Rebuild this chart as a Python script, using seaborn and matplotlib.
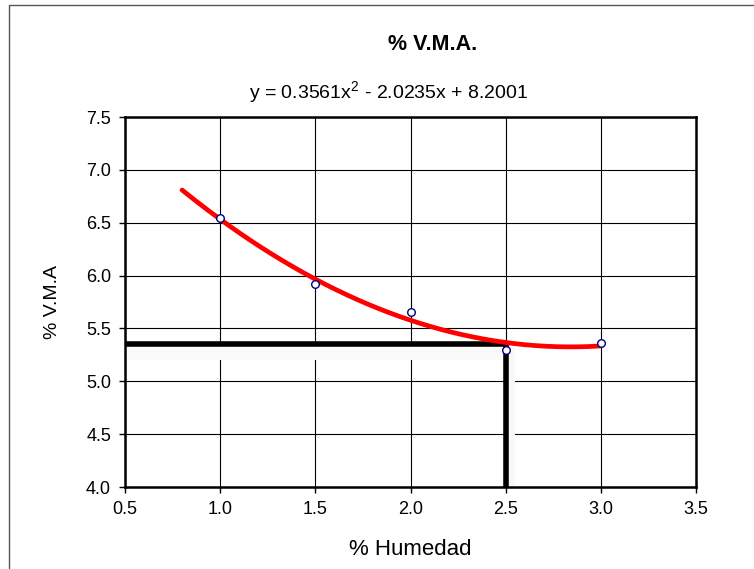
import numpy as np
import pandas as pd
import matplotlib
matplotlib.use("Agg")
import matplotlib.pyplot as plt
from matplotlib.patches import Rectangle
import seaborn as sns

# Data
humedad = [1.0, 1.5, 2.0, 2.5, 3.0]
vma = [6.54, 5.92, 5.66, 5.30, 5.36]
# trendline coefficients as printed on the chart
coef = [0.3561, -2.0235, 8.2001]
trend_range = [0.8, 3.0]
design_x = 2.5
design_y = 5.35
x_ticks = [0.5, 1.0, 1.5, 2.0, 2.5, 3.0, 3.5]
y_ticks = [4.0, 4.5, 5.0, 5.5, 6.0, 6.5, 7.0, 7.5]
title = "% V.M.A."
equation = "y = 0.3561x$^{2}$ - 2.0235x + 8.2001"

sns.set_theme(style="white")
plt.rcParams['font.family'] = ['Liberation Sans', 'DejaVu Sans']
plt.rcParams['mathtext.fontset'] = 'custom'
plt.rcParams['mathtext.rm'] = 'Liberation Sans'

fig = plt.figure(figsize=(7.54, 5.69), dpi=100)
W, H = 754, 569
ax = fig.add_axes([125 / W, 1 - 487 / H, (696 - 125) / W, (487 - 117) / H])

# outer chart border
fig.patches.append(Rectangle((9 / W, -0.1), 1.2, (1 - 5 / H) + 0.1, transform=fig.transFigure,
                             fill=False, edgecolor='#555555', linewidth=1.0))

df = pd.DataFrame({"x": humedad, "y": vma})
xs = np.linspace(trend_range[0], trend_range[1], 200)
trend = pd.DataFrame({"x": xs, "y": np.polyval(coef, xs)})

# faint shadows of the design lines
ax.fill_between([x_ticks[0], design_x + 0.03], design_y - 0.15, design_y - 0.02,
                color='#fafafa', zorder=2, linewidth=0)
ax.fill_between([design_x + 0.01, design_x + 0.05], y_ticks[0], design_y,
                color='#f8f8f8', zorder=2, linewidth=0)

# design lines
ax.plot([x_ticks[0], design_x], [design_y, design_y], color='black', lw=4, zorder=3,
        solid_capstyle='butt')
ax.plot([design_x, design_x], [y_ticks[0], design_y], color='black', lw=4, zorder=3,
        solid_capstyle='butt')

sns.lineplot(data=trend, x="x", y="y", ax=ax, color='red', lw=3.4, zorder=4,
             sort=False)
sns.scatterplot(data=df, x="x", y="y", ax=ax, marker='o', s=30, facecolor='white',
                edgecolor='#000080', linewidth=1.0, zorder=5)

ax.set_xlim(x_ticks[0], x_ticks[-1])
ax.set_ylim(y_ticks[0], y_ticks[-1])
ax.set_xticks(x_ticks)
ax.set_yticks(y_ticks)
ax.set_xticklabels([f"{v:.1f}" for v in x_ticks], fontsize=13)
ax.set_yticklabels([f"{v:.1f}" for v in y_ticks], fontsize=13)
ax.tick_params(axis='both', which='major', direction='out', length=4, width=1,
               color='black', bottom=True, left=True, pad=6, labelcolor='black')
ax.grid(True, color='black', lw=0.8)
ax.set_axisbelow(True)
for s in ax.spines.values():
    s.set_color('black')
    s.set_linewidth(1.8)

ax.set_xlabel("% Humedad", fontsize=16, labelpad=15, color='black')
ax.set_ylabel("% V.M.A", fontsize=14, labelpad=18, color='black')

fig.text(433 / W, 1 - 45 / H, title, ha='center', va='center', fontsize=15.5,
         fontweight='bold', color='black')
fig.text(389 / W, 1 - 93 / H, equation, ha='center', va='center', fontsize=14,
         color='black')

fig.savefig("out.png", dpi=100)
